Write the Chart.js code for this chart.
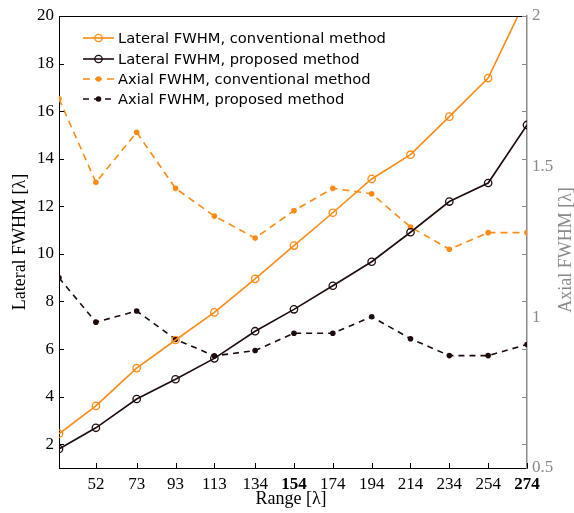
<!DOCTYPE html>
<html>
<head>
<meta charset="utf-8">
<script src="https://cdn.jsdelivr.net/npm/chart.js@4.4.0/dist/chart.umd.min.js"></script>
<style>
  html, body { margin: 0; padding: 0; background: #ffffff; }
  #wrap { width: 574px; height: 513px; }
</style>
</head>
<body>
<div id="wrap"><canvas id="grafico"></canvas></div>
<script>
// datos
const rango = [33, 52, 73, 93, 113, 134, 154, 174, 194, 214, 234, 254, 274];
const rangoTicks = [52, 73, 93, 113, 134, 154, 174, 194, 214, 234, 254, 274];
const lateralConv = [2.44, 3.61, 5.20, 6.38, 7.54, 8.95, 10.35, 11.73, 13.15, 14.17, 15.77, 17.39, 20.8];
const lateralProp = [1.80, 2.69, 3.90, 4.73, 5.61, 6.75, 7.67, 8.66, 9.67, 10.91, 12.20, 12.98, 15.42];
const axialConv = [1.725, 1.448, 1.614, 1.428, 1.336, 1.263, 1.354, 1.428, 1.410, 1.300, 1.226, 1.281, 1.281];
const axialProp = [1.131, 0.984, 1.021, 0.927, 0.872, 0.890, 0.947, 0.947, 1.002, 0.929, 0.873, 0.873, 0.910];
const lateralTicks = [2, 4, 6, 8, 10, 12, 14, 16, 18, 20];
const axialTicks = [0.5, 1, 1.5, 2];
const etiquetas = [
    'Lateral FWHM, conventional method',
    'Lateral FWHM, proposed method',
    'Axial FWHM, conventional method',
    'Axial FWHM, proposed method'
];

const colores = {
    naranja: '#ff8a14',
    negro: '#1e0c0c',
    gris: '#8a8a8a'
};

function puntos(ys) {
    return rango.map((x, i) => ({ x: x, y: ys[i] }));
}

const fuenteSerif = '"Liberation Serif", "DejaVu Serif", serif';
const fuenteSans = '"DejaVu Sans", sans-serif';

// ticks hacia dentro, borde superior, titulos y leyenda
const decoracion = {
    id: 'decoracion',
    afterDraw(chart) {
        const ctx = chart.ctx;
        const area = chart.chartArea;
        const sx = chart.scales.x, sy = chart.scales.y;
        const largo = 5;
        ctx.save();
        ctx.lineWidth = 1;
        // borde superior
        ctx.strokeStyle = '#000';
        ctx.beginPath();
        ctx.moveTo(area.left, area.top + 0.5);
        ctx.lineTo(area.right, area.top + 0.5);
        ctx.stroke();
        // ticks eje x
        ctx.beginPath();
        rangoTicks.forEach(v => {
            const px = Math.round(sx.getPixelForValue(v)) + 0.5;
            ctx.moveTo(px, area.bottom);
            ctx.lineTo(px, area.bottom - largo);
        });
        // ticks eje izquierdo
        lateralTicks.forEach(v => {
            const py = Math.round(sy.getPixelForValue(v)) + 0.5;
            ctx.moveTo(area.left, py);
            ctx.lineTo(area.left + largo, py);
        });
        ctx.stroke();
        // ticks eje derecho
        ctx.strokeStyle = colores.gris;
        ctx.beginPath();
        lateralTicks.forEach(v => {
            const py = Math.round(sy.getPixelForValue(v)) + 0.5;
            ctx.moveTo(area.right, py);
            ctx.lineTo(area.right - largo, py);
        });
        ctx.stroke();

        // titulos
        ctx.font = '18px ' + fuenteSerif;
        ctx.textAlign = 'center';
        ctx.textBaseline = 'middle';
        ctx.fillStyle = '#000';
        ctx.fillText('Range [λ]', (area.left + area.right) / 2 - 2, 499);
        ctx.save();
        ctx.translate(20, (area.top + area.bottom) / 2);
        ctx.rotate(-Math.PI / 2);
        ctx.fillText('Lateral FWHM [λ]', 0, 0);
        ctx.restore();
        ctx.save();
        ctx.fillStyle = colores.gris;
        ctx.translate(566, (area.top + area.bottom) / 2 + 8);
        ctx.rotate(-Math.PI / 2);
        ctx.fillText('Axial FWHM [λ]', 0, 0);
        ctx.restore();

        // leyenda
        const filas = [38, 59, 79, 99];
        ctx.font = '14.7px ' + fuenteSans;
        ctx.textAlign = 'left';
        chart.data.datasets.forEach((ds, i) => {
            const y = filas[i];
            ctx.strokeStyle = ds.borderColor;
            ctx.lineWidth = ds.borderWidth;
            ctx.setLineDash(ds.borderDash || []);
            ctx.beginPath();
            ctx.moveTo(83, y);
            ctx.lineTo(114, y);
            ctx.stroke();
            ctx.setLineDash([]);
            ctx.beginPath();
            ctx.arc(98.5, y, ds.pointRadius, 0, Math.PI * 2);
            ctx.fillStyle = ds.pointBackgroundColor;
            ctx.fill();
            ctx.lineWidth = ds.pointBorderWidth;
            ctx.strokeStyle = ds.pointBorderColor;
            if (ds.pointBorderWidth > 0) ctx.stroke();
            ctx.fillStyle = '#000';
            ctx.fillText(ds.label, 118, y + 1);
        });
        ctx.restore();
    }
};

new Chart(document.getElementById('grafico'), {
    type: 'line',
    data: {
        datasets: [
            {
                label: etiquetas[0],
                data: puntos(lateralConv),
                yAxisID: 'y',
                borderColor: colores.naranja,
                borderWidth: 1.6,
                pointRadius: 3.7,
                pointBackgroundColor: 'rgba(255,255,255,0)',
                pointBorderColor: colores.naranja,
                pointBorderWidth: 1.3,
                clip: 0
            },
            {
                label: etiquetas[1],
                data: puntos(lateralProp),
                yAxisID: 'y',
                borderColor: colores.negro,
                borderWidth: 1.6,
                pointRadius: 3.7,
                pointBackgroundColor: 'rgba(255,255,255,0)',
                pointBorderColor: colores.negro,
                pointBorderWidth: 1.3,
                clip: 0
            },
            {
                label: etiquetas[2],
                data: puntos(axialConv),
                yAxisID: 'y2',
                borderColor: colores.naranja,
                borderWidth: 1.6,
                borderDash: [7, 5],
                pointRadius: 2.8,
                pointBackgroundColor: colores.naranja,
                pointBorderColor: colores.naranja,
                pointBorderWidth: 0,
                clip: 0
            },
            {
                label: etiquetas[3],
                data: puntos(axialProp),
                yAxisID: 'y2',
                borderColor: colores.negro,
                borderWidth: 1.6,
                borderDash: [6, 5],
                pointRadius: 2.8,
                pointBackgroundColor: colores.negro,
                pointBorderColor: colores.negro,
                pointBorderWidth: 0,
                clip: 0
            }
        ]
    },
    options: {
        responsive: true,
        maintainAspectRatio: false,
        animation: false,
        layout: { padding: { top: 16, left: 0, right: 0, bottom: 0 } },
        plugins: {
            legend: { display: false },
            tooltip: { enabled: false }
        },
        scales: {
            x: {
                type: 'linear',
                min: 33,
                max: 274,
                afterBuildTicks: function(scale) {
                    scale.ticks = rangoTicks.map(v => ({ value: v }));
                },
                afterFit: function(scale) { scale.height = 45; },
                grid: { display: false, drawTicks: false },
                border: { display: true, color: '#000', width: 1 },
                ticks: {
                    padding: 6,
                    maxRotation: 0,
                    autoSkip: false,
                    color: '#000',
                    font: function(c) {
                        const v = c.tick ? c.tick.value : 0;
                        return { family: fuenteSerif, size: 17, weight: (v === 154 || v === 274) ? '600' : 'normal' };
                    },
                    callback: function(value) { return String(value); }
                }
            },
            y: {
                position: 'left',
                min: 1,
                max: 20,
                afterBuildTicks: function(scale) {
                    scale.ticks = lateralTicks.map(v => ({ value: v }));
                },
                afterFit: function(scale) { scale.width = 59; },
                grid: { display: false, drawTicks: false },
                border: { display: true, color: '#000', width: 1 },
                ticks: {
                    padding: 5,
                    color: '#000',
                    font: { family: fuenteSerif, size: 17 }
                }
            },
            y2: {
                position: 'right',
                min: 0.5,
                max: 2,
                afterBuildTicks: function(scale) {
                    scale.ticks = axialTicks.map(v => ({ value: v }));
                },
                afterFit: function(scale) { scale.width = 47; },
                grid: { display: false, drawTicks: false },
                border: { display: true, color: colores.gris, width: 1.5 },
                ticks: {
                    padding: 5,
                    color: colores.gris,
                    font: { family: fuenteSerif, size: 17 },
                    callback: function(value) { return String(value); }
                }
            }
        }
    },
    plugins: [decoracion]
});
</script>
</body>
</html>
